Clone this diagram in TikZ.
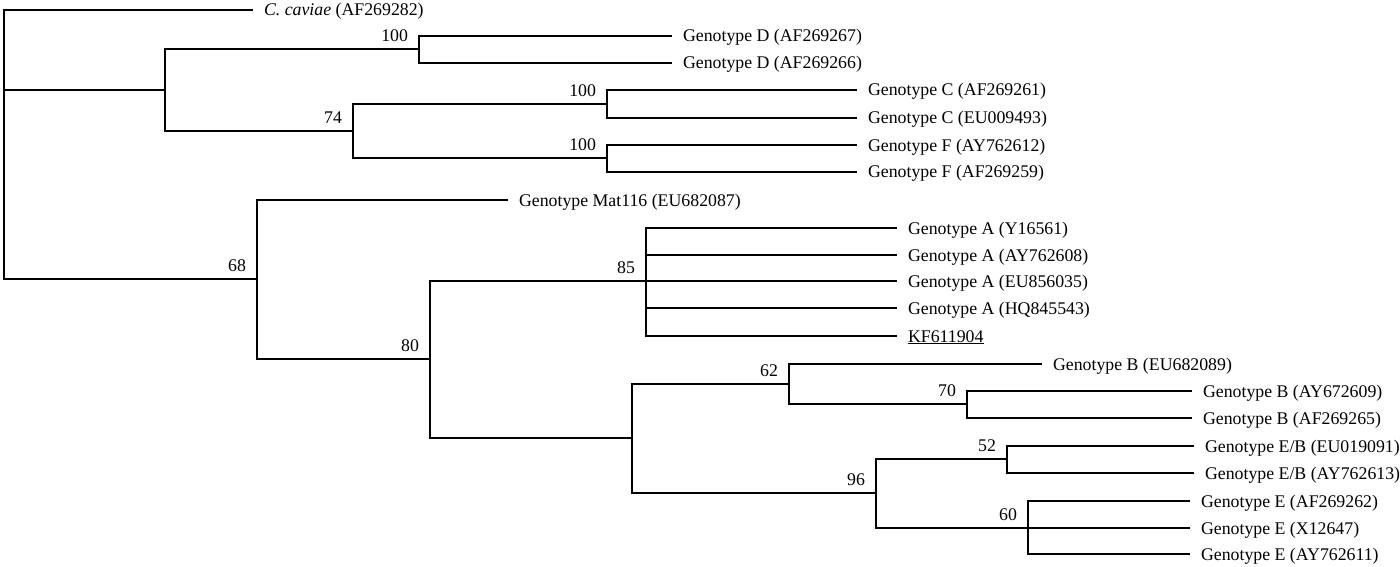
\documentclass[tikz,border=0pt]{standalone}
\usepackage{fontspec}
\setmainfont{Liberation Serif}
\begin{document}
\begin{tikzpicture}[x=1pt,y=-1pt,line width=2pt,
    leaf/.style={anchor=west,inner xsep=10pt,inner ysep=0pt,text height=12pt,text depth=0pt,
      font=\fontsize{17.8}{20}\selectfont},
    boot/.style={anchor=south east,inner sep=0pt,xshift=-10pt,yshift=6pt,
      font=\fontsize{17.8}{20}\selectfont}]
    \useasboundingbox (0,0) rectangle (1400,567);
    \coordinate (root) at (4,90);
    \coordinate (nDF) at (165,90);
    \coordinate (nD) at (419,49);
    \coordinate (n74) at (353,131);
    \coordinate (nC) at (607,104);
    \coordinate (nF) at (607,158);
    \coordinate (n68) at (257,279);
    \coordinate (n80) at (430,359);
    \coordinate (n85) at (646,281);
    \coordinate (nBE) at (632,438);
    \coordinate (n62) at (789,384);
    \coordinate (n70) at (967,404);
    \coordinate (n96) at (876,493);
    \coordinate (n52) at (1007,459);
    \coordinate (n60) at (1028,528);
    % leaves
    \node[leaf] (caviae) at (253,10) {\textit{C. caviae} (AF269282)};
    \node[leaf] (D1) at (672,36) {Genotype D (AF269267)};
    \node[leaf] (D2) at (672,63) {Genotype D (AF269266)};
    \node[leaf] (C1) at (857,90) {Genotype C (AF269261)};
    \node[leaf] (C2) at (857,118) {Genotype C (EU009493)};
    \node[leaf] (F1) at (857,145) {Genotype F (AY762612)};
    \node[leaf] (F2) at (857,172) {Genotype F (AF269259)};
    \node[leaf] (Mat) at (508,200) {Genotype Mat116 (EU682087)};
    \node[leaf] (A1) at (897,228) {Genotype A (Y16561)};
    \node[leaf] (A2) at (897,255) {Genotype A (AY762608)};
    \node[leaf] (A3) at (897,281) {Genotype A (EU856035)};
    \node[leaf] (A4) at (897,308) {Genotype A (HQ845543)};
    \node[leaf] (KF) at (897,336) {\underline{KF611904}};
    \node[leaf] (B1) at (1042,364) {Genotype B (EU682089)};
    \node[leaf] (B2) at (1192,391) {Genotype B (AY672609)};
    \node[leaf] (B3) at (1192,418) {Genotype B (AF269265)};
    \node[leaf] (EB1) at (1194,446) {Genotype E/B (EU019091)};
    \node[leaf] (EB2) at (1194,473) {Genotype E/B (AY762613)};
    \node[leaf] (E1) at (1190,501) {Genotype E (AF269262)};
    \node[leaf] (E2) at (1190,528) {Genotype E (X12647)};
    \node[leaf] (E3) at (1190,554) {Genotype E (AY762611)};
    % branches
    \draw (root) |- (caviae.west);
    \draw (root) -- (nDF);
    \draw (root) |- (n68);
    \draw (nDF) |- (nD);
    \draw (nDF) |- (n74);
    \draw (nD) |- (D1.west);
    \draw (nD) |- (D2.west);
    \draw (n74) |- (nC);
    \draw (n74) |- (nF);
    \draw (nC) |- (C1.west);
    \draw (nC) |- (C2.west);
    \draw (nF) |- (F1.west);
    \draw (nF) |- (F2.west);
    \draw (n68) |- (Mat.west);
    \draw (n68) |- (n80);
    \draw (n80) |- (n85);
    \draw (n80) |- (nBE);
    \draw (n85) |- (A1.west);
    \draw (n85) |- (A2.west);
    \draw (n85) -- (A3.west);
    \draw (n85) |- (A4.west);
    \draw (n85) |- (KF.west);
    \draw (nBE) |- (n62);
    \draw (nBE) |- (n96);
    \draw (n62) |- (B1.west);
    \draw (n62) |- (n70);
    \draw (n70) |- (B2.west);
    \draw (n70) |- (B3.west);
    \draw (n96) |- (n52);
    \draw (n96) |- (n60);
    \draw (n52) |- (EB1.west);
    \draw (n52) |- (EB2.west);
    \draw (n60) |- (E1.west);
    \draw (n60) -- (E2.west);
    \draw (n60) |- (E3.west);
    % bootstrap values
    \node[boot] (bD) at (nD) {100};
    \node[boot] (b74) at (n74) {74};
    \node[boot] (bC) at (nC) {100};
    \node[boot] (bF) at (nF) {100};
    \node[boot] (b68) at (n68) {68};
    \node[boot] (b80) at (n80) {80};
    \node[boot] (b85) at (n85) {85};
    \node[boot] (b62) at (n62) {62};
    \node[boot] (b70) at (n70) {70};
    \node[boot] (b96) at (n96) {96};
    \node[boot] (b52) at (n52) {52};
    \node[boot] (b60) at (n60) {60};
\end{tikzpicture}
\end{document}
